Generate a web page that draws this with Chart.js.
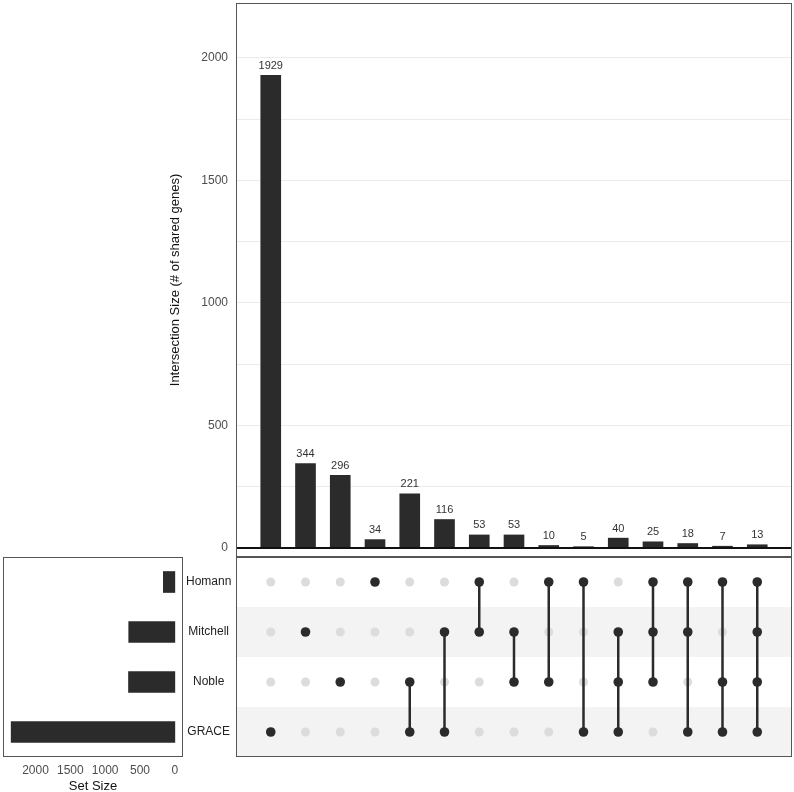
<!DOCTYPE html>
<html>
<head>
<meta charset="utf-8">
<script src="https://cdn.jsdelivr.net/npm/chart.js@4.4.1/dist/chart.umd.min.js"></script>
<style>
  body { margin: 0; background: #fff; }
  #wrap { position: relative; width: 794px; height: 792px; }
  canvas { position: absolute; }
</style>
</head>
<body>
<div id="wrap">
  <canvas id="barChart" width="794" height="558" style="left:0;top:0;width:794px;height:558px"></canvas>
  <canvas id="matrixChart" width="556" height="200" style="left:236px;top:557px;width:556px;height:200px"></canvas>
  <canvas id="setChart" width="236" height="235" style="left:0;top:557px;width:236px;height:235px"></canvas>
</div>
<script>
// conjuntos (de arriba a abajo en la matriz)
const sets = ['Homann', 'Mitchell', 'Noble', 'GRACE'];
const setSizes = [165, 662, 665, 2349];

// intersecciones, en el orden de las barras
const intersections = [
  ['GRACE'],
  ['Mitchell'],
  ['Noble'],
  ['Homann'],
  ['Noble', 'GRACE'],
  ['Mitchell', 'GRACE'],
  ['Homann', 'Mitchell'],
  ['Mitchell', 'Noble'],
  ['Homann', 'Noble'],
  ['Homann', 'GRACE'],
  ['Mitchell', 'Noble', 'GRACE'],
  ['Homann', 'Mitchell', 'Noble'],
  ['Homann', 'Mitchell', 'GRACE'],
  ['Homann', 'Noble', 'GRACE'],
  ['Homann', 'Mitchell', 'Noble', 'GRACE']
];
const intersectionSizes = [1929, 344, 296, 34, 221, 116, 53, 53, 10, 5, 40, 25, 18, 7, 13];

// marcas de los ejes
const intersectionTicks = [0, 250, 500, 750, 1000, 1250, 1500, 1750, 2000];
const intersectionLabels = ['0', '', '500', '', '1000', '', '1500', '', '2000'];
const setSizeTicks = [0, 500, 1000, 1500, 2000];

const dark = '#2b2b2b';
const fontFamily = '"Liberation Sans", Arial, sans-serif';

// sin relleno extra por las etiquetas de los ejes
function noLabelPadding(scale) {
  scale.paddingTop = 0;
  scale.paddingBottom = 0;
  scale.paddingLeft = 0;
  scale.paddingRight = 0;
}

// marco alrededor del area del grafico
const framePlugin = {
  id: 'frame',
  afterDraw(chart, args, opts) {
    const a = chart.chartArea;
    const ctx = chart.ctx;
    ctx.save();
    ctx.strokeStyle = opts.color || '#555';
    ctx.lineWidth = 1;
    ctx.strokeRect(a.left + 0.5, a.top + 0.5, a.right - a.left - 1, a.bottom - a.top - 1);
    ctx.restore();
  }
};

// linea base en y = 0 y etiquetas encima de cada barra
const barExtras = {
  id: 'barExtras',
  afterDatasetsDraw(chart) {
    const ctx = chart.ctx;
    const y0 = chart.scales.y.getPixelForValue(0);
    const a = chart.chartArea;
    ctx.save();
    ctx.strokeStyle = '#111';
    ctx.lineWidth = 2;
    ctx.beginPath();
    ctx.moveTo(a.left, y0);
    ctx.lineTo(a.right, y0);
    ctx.stroke();

    ctx.fillStyle = '#333';
    ctx.font = '11px ' + fontFamily;
    ctx.textAlign = 'center';
    ctx.textBaseline = 'bottom';
    chart.getDatasetMeta(0).data.forEach((bar, i) => {
      ctx.fillText(intersectionSizes[i], bar.x, bar.y - 4);
    });
    ctx.restore();
  }
};

new Chart(document.getElementById('barChart'), {
  type: 'bar',
  data: {
    datasets: [{
      data: intersectionSizes.map((v, i) => ({ x: i, y: v })),
      backgroundColor: dark,
      barThickness: 20
    }]
  },
  options: {
    responsive: false,
    animation: false,
    layout: { padding: { left: 164, top: 3, right: 2, bottom: 1 }, autoPadding: false },
    plugins: {
      legend: { display: false },
      tooltip: { enabled: false },
      frame: { color: '#555' }
    },
    scales: {
      x: { type: 'linear', min: -1, max: 15, offset: false, display: false },
      y: {
        min: -37,
        max: 2224,
        afterBuildTicks(scale) {
          scale.ticks = intersectionTicks.map(v => ({ value: v }));
        },
        afterFit(scale) {
          scale.width = 72;
          noLabelPadding(scale);
        },
        ticks: {
          padding: 8,
          color: '#4d4d4d',
          font: { family: fontFamily, size: 12 },
          callback: (v, i) => intersectionLabels[i]
        },
        grid: { color: '#ebebeb', drawTicks: false },
        border: { display: false },
        title: {
          display: true,
          text: 'Intersection Size (# of shared genes)',
          color: '#111',
          font: { family: fontFamily, size: 13 },
          padding: { top: 4, bottom: 0 }
        }
      }
    }
  },
  plugins: [barExtras, framePlugin]
});

// matriz de puntos
const bandPlugin = {
  id: 'bands',
  beforeDatasetsDraw(chart) {
    const ctx = chart.ctx;
    const a = chart.chartArea;
    const y = chart.scales.y;
    ctx.save();
    ctx.fillStyle = '#f3f3f3';
    sets.forEach((s, i) => {
      if (i % 2 === 1) {
        const top = y.getPixelForValue(i - 0.5);
        const bottom = y.getPixelForValue(i + 0.5);
        ctx.fillRect(a.left, Math.min(top, bottom), a.right - a.left, Math.abs(bottom - top));
      }
    });
    ctx.restore();
  }
};

const greyDots = [];
const blackDots = [];
intersections.forEach((members, i) => {
  sets.forEach((s, j) => {
    if (members.includes(s)) blackDots.push({ x: i, y: j });
    else greyDots.push({ x: i, y: j });
  });
});

const connectorSets = intersections
  .map((members, i) => {
    const idx = members.map(m => sets.indexOf(m));
    return { i, lo: Math.min(...idx), hi: Math.max(...idx), n: members.length };
  })
  .filter(c => c.n > 1)
  .map(c => ({
    type: 'line',
    data: [{ x: c.i, y: c.lo }, { x: c.i, y: c.hi }],
    borderColor: dark,
    borderWidth: 2.5,
    pointRadius: 0,
    order: 2
  }));

new Chart(document.getElementById('matrixChart'), {
  type: 'scatter',
  data: {
    datasets: [
      { data: greyDots, backgroundColor: '#dcdcdc', borderWidth: 0, pointRadius: 4.5, order: 3 },
      ...connectorSets,
      { data: blackDots, backgroundColor: dark, borderWidth: 0, pointRadius: 4.8, order: 0 }
    ]
  },
  options: {
    responsive: false,
    animation: false,
    layout: { padding: 0, autoPadding: false },
    plugins: {
      legend: { display: false },
      tooltip: { enabled: false },
      frame: { color: '#555' }
    },
    scales: {
      x: { type: 'linear', min: -1, max: 15, display: false },
      y: { type: 'linear', min: -0.5, max: 3.5, reverse: true, display: false }
    }
  },
  plugins: [bandPlugin, framePlugin]
});

// tamano de cada conjunto
new Chart(document.getElementById('setChart'), {
  type: 'bar',
  data: {
    labels: sets,
    datasets: [{
      data: setSizes,
      backgroundColor: dark,
      barThickness: 21
    }]
  },
  options: {
    indexAxis: 'y',
    responsive: false,
    animation: false,
    layout: { padding: { left: 3, top: 0, right: 0, bottom: 0 }, autoPadding: false },
    plugins: {
      legend: { display: false },
      tooltip: { enabled: false },
      frame: { color: '#555' }
    },
    scales: {
      x: {
        min: -117,
        max: 2466,
        reverse: true,
        afterBuildTicks(scale) {
          scale.ticks = setSizeTicks.map(v => ({ value: v }));
        },
        afterFit(scale) {
          scale.height = 35;
          noLabelPadding(scale);
        },
        ticks: {
          padding: 6,
          maxRotation: 0,
          autoSkip: false,
          color: '#4d4d4d',
          font: { family: fontFamily, size: 12 },
          callback: v => String(v)
        },
        grid: { display: false, drawTicks: false },
        border: { display: false },
        title: {
          display: true,
          text: 'Set Size',
          color: '#111',
          font: { family: fontFamily, size: 13 },
          padding: { top: 0, bottom: -2 }
        }
      },
      y: {
        position: 'right',
        afterFit(scale) {
          scale.width = 53;
          noLabelPadding(scale);
        },
        ticks: {
          crossAlign: 'center',
          padding: 3,
          color: '#222',
          font: { family: fontFamily, size: 12 }
        },
        grid: { display: false, drawTicks: false },
        border: { display: false }
      }
    }
  },
  plugins: [framePlugin]
});
</script>
</body>
</html>
